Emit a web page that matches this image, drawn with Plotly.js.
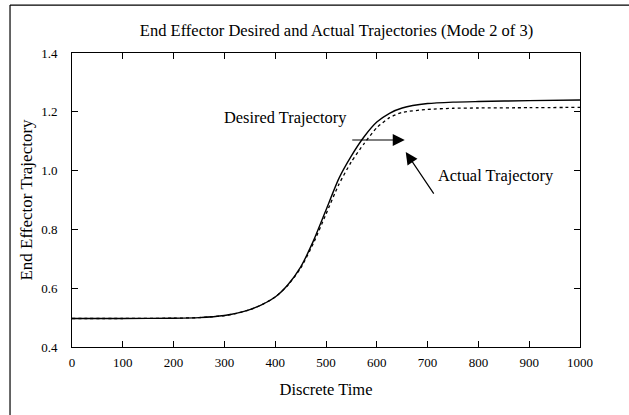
<!DOCTYPE html>
<html>
<head>
<meta charset="utf-8">
<script src="https://cdn.plot.ly/plotly-3.0.1.min.js"></script>
<style>html,body{margin:0;padding:0;background:#fff;}#chart{width:629px;height:415px;}</style>
</head>
<body>
<div id="chart"></div>
<script>
var time = [0,100,200,250,300,325,350,375,400,425,450,475,500,525,550,575,600,625,650,700,750,800,900,1000];
var desired = [0.497,0.497,0.498,0.500,0.507,0.515,0.527,0.545,0.570,0.612,0.672,0.760,0.866,0.972,1.050,1.115,1.165,1.195,1.213,1.228,1.233,1.235,1.238,1.240];
var actual = [0.497,0.497,0.498,0.500,0.507,0.515,0.527,0.545,0.570,0.610,0.668,0.752,0.852,0.952,1.030,1.092,1.146,1.180,1.198,1.208,1.212,1.213,1.214,1.215];
var xTicks = [0,100,200,300,400,500,600,700,800,900,1000];
var yTicks = [0.4,0.6,0.8,1.0,1.2,1.4];
var yTickText = ['0.4','0.6','0.8','1.0','1.2','1.4'];

var serif = 'Liberation Serif, Times New Roman, serif';
var traces = [
  {x: time, y: desired, mode: 'lines', line: {color: '#000', width: 1.4, shape: 'spline', smoothing: 0.6}, name: 'Desired'},
  {x: time, y: actual, mode: 'lines', line: {color: '#000', width: 1.3, dash: '3px,3px', shape: 'spline', smoothing: 0.6}, name: 'Actual'}
];
var axisCommon = {showgrid: false, zeroline: false, showline: true, linecolor: '#000', linewidth: 1, mirror: 'ticks', ticks: 'inside', ticklen: 6, tickcolor: '#000', tickwidth: 1, tickfont: {family: serif, size: 13, color: '#000'}};
var layout = {
  width: 629, height: 415,
  margin: {l: 72, r: 49, t: 53, b: 68},
  paper_bgcolor: '#fff', plot_bgcolor: '#fff',
  showlegend: false,
  title: {text: 'End Effector Desired and Actual Trajectories (Mode 2 of 3)', font: {family: serif, size: 16.5, color: '#000'}, x: 0.535, xanchor: 'center', y: 0.928, yanchor: 'middle'},
  xaxis: Object.assign({}, axisCommon, {range: [0, 1000], tickvals: xTicks, ticktext: xTicks.map(String), ticklabelstandoff: 3,
    title: {text: 'Discrete Time', font: {family: serif, size: 16.5, color: '#000'}, standoff: 14}}),
  yaxis: Object.assign({}, axisCommon, {range: [0.4, 1.4], tickvals: yTicks, ticktext: yTickText, ticklabelstandoff: 11,
    title: {text: 'End Effector Trajectory', font: {family: serif, size: 17, color: '#000'}, standoff: 4}}),
  annotations: [
    {x: 421, y: 1.182, xref: 'x', yref: 'y', text: 'Desired Trajectory', showarrow: false, font: {family: serif, size: 16.4, color: '#000'}},
    {x: 835, y: 0.985, xref: 'x', yref: 'y', text: 'Actual Trajectory', showarrow: false, font: {family: serif, size: 16.4, color: '#000'}},
    {x: 655, y: 1.104, xref: 'x', yref: 'y', text: '', showarrow: true, arrowhead: 2, arrowsize: 2, arrowwidth: 1.2, arrowcolor: '#000', ax: -54, ay: 0},
    {x: 657, y: 1.063, xref: 'x', yref: 'y', text: '', showarrow: true, arrowhead: 2, arrowsize: 2, arrowwidth: 1.2, arrowcolor: '#000', ax: 29, ay: 43}
  ],
  shapes: [
    {type: 'line', xref: 'paper', yref: 'paper', x0: -0.122, x1: 1.1, y0: 1.163, y1: 1.163, line: {color: '#000', width: 1.2}},
    {type: 'line', xref: 'paper', yref: 'paper', x0: -0.122, x1: -0.122, y0: 1.163, y1: -0.24, line: {color: '#000', width: 1.2}}
  ]
};
Plotly.newPlot('chart', traces, layout, {displayModeBar: false, staticPlot: true});
</script>
</body>
</html>
